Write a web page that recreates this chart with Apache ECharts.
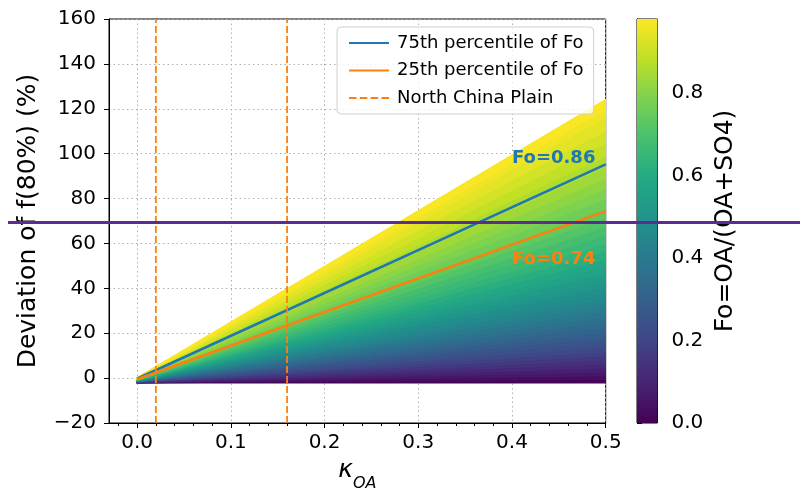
<!DOCTYPE html>
<html><head><meta charset="utf-8">
<script src="https://cdn.jsdelivr.net/npm/echarts@6/dist/echarts.min.js"></script>
<style>html,body{margin:0;padding:0;background:#fff}#c{width:800px;height:493px}</style>
</head><body><div id="c"></div>
<script>
// ---- data ----
const foLevels      = [0.000,0.025,0.050,0.075,0.100,0.125,0.150,0.175,0.200,0.225,0.250,0.275,0.300,0.325,0.350,0.375,0.400,0.425,0.450,0.475,0.500,0.525,0.550,0.575,0.600,0.625,0.650,0.675,0.700,0.725,0.750,0.775,0.800,0.825,0.850,0.875,0.900,0.925,0.950,0.965,0.980];
const devAtKappa0   = [-2.00,-1.95,-1.90,-1.85,-1.80,-1.75,-1.70,-1.65,-1.60,-1.55,-1.50,-1.45,-1.40,-1.35,-1.30,-1.25,-1.20,-1.15,-1.10,-1.05,-1.00,-0.95,-0.90,-0.85,-0.80,-0.75,-0.70,-0.65,-0.60,-0.55,-0.50,-0.45,-0.40,-0.35,-0.30,-0.25,-0.20,-0.15,-0.10,-0.05,0.00];
const devAtKappa05  = [-2.0,-0.4,1.3,2.9,4.7,6.5,8.3,10.2,12.1,14.2,16.2,18.3,20.5,22.8,25.1,27.5,30.0,32.5,35.2,37.9,40.8,43.7,46.7,49.9,53.2,56.6,60.1,63.8,67.6,71.6,75.7,80.0,84.5,89.2,94.2,99.3,104.8,110.4,116.4,120.1,124.0];
const kappaEnds     = [0, 0.5];
const percentileNames    = ['75th percentile of Fo', '25th percentile of Fo'];
const percentileFo       = [0.86, 0.74];
const percentileDevStart = [-0.3, -0.5];
const percentileDevEnd   = [95.2, 74.4];
const percentileLabels   = ['Fo=0.86', 'Fo=0.74'];
const percentileLabelPos = [[0.4, 98], [0.4, 53]];
const ncpName  = 'North China Plain';
const ncpKappa = [0.02, 0.16];
const xMajorTicks = [0, 0.1, 0.2, 0.3, 0.4, 0.5];
const xMinorTicks = [-0.02,0.02,0.04,0.06,0.08,0.12,0.14,0.16,0.18,0.22,0.24,0.26,0.28,0.32,0.34,0.36,0.38,0.42,0.44,0.46,0.48];
const xRange = [-0.03, 0.5];
const yRange = [-20, 160];
const cbTicks = [0, 0.2, 0.4, 0.6, 0.8];
const foMax = 0.979;
const refLineValue = 69.3;

// ---- styling helpers ----
const FONT = 'DejaVu Sans';
const VIR = ['#440154','#482475','#414487','#355f8d','#2a788e','#21918c','#22a884','#44bf70','#7ad151','#bddf26','#fde725'];
function hex2rgb(h){return [parseInt(h.slice(1,3),16),parseInt(h.slice(3,5),16),parseInt(h.slice(5,7),16)];}
function viridis(t){
  t = Math.max(0, Math.min(1, t));
  const p = t*(VIR.length-1), i = Math.min(Math.floor(p), VIR.length-2), f = p-i;
  const a = hex2rgb(VIR[i]), b = hex2rgb(VIR[i+1]);
  return 'rgb(' + a.map((v,k)=>Math.round(v+(b[k]-v)*f)).join(',') + ')';
}
const blue = '#1f77b4', orange = '#ff7f0e';
const minus = v => String(v).replace('-', '\u2212');
const solidIcon  = 'path://M0,0H40V2H0Z';
const dashedIcon = 'path://M0,0H7V2H0Z M10,0H17V2H10Z M20,0H27V2H20Z M30,0H37V2H30Z';

const chart = echarts.init(document.getElementById('c'), null, {renderer:'canvas'});

const fanData = foLevels.slice(0, -1).map((f, i) => [i, 0]);
const series = [];
series.push({
  type: 'custom', xAxisIndex: 0, yAxisIndex: 0, clip: true, z: 2,
  data: fanData,
  renderItem: function(params, api){
    const i = api.value(0);
    const pts = [
      api.coord([kappaEnds[0], devAtKappa0[i]]),
      api.coord([kappaEnds[1], devAtKappa05[i]]),
      api.coord([kappaEnds[1], devAtKappa05[i+1]]),
      api.coord([kappaEnds[0], devAtKappa0[i+1]])
    ];
    const col = viridis(((foLevels[i] + foLevels[i+1]) / 2) / foMax);
    return {type:'polygon', shape:{points: pts}, style:{fill: col, stroke: col, lineWidth: 2, lineJoin:'round'}};
  },
  silent: true
});
percentileNames.forEach((nm, j) => {
  series.push({
    name: nm, type: 'line', xAxisIndex: 0, yAxisIndex: 0, z: 3,
    data: [[kappaEnds[0], percentileDevStart[j]], [kappaEnds[1], percentileDevEnd[j]]],
    showSymbol: false, lineStyle: {color: j === 0 ? blue : orange, width: 2.6},
    itemStyle: {color: j === 0 ? blue : orange}, silent: true
  });
});
ncpKappa.forEach(k => {
  series.push({
    name: ncpName, type: 'line', xAxisIndex: 0, yAxisIndex: 0, z: 4,
    data: [[k, yRange[0]], [k, yRange[1]]],
    showSymbol: false, lineStyle: {color: orange, width: 1.8, type: [7, 3]},
    itemStyle: {color: orange}, silent: true
  });
});
series.push({
  type: 'custom', xAxisIndex: 0, yAxisIndex: 0, z: 5, silent: true,
  data: percentileLabelPos.map((p, j) => [p[0], p[1], j]),
  renderItem: function(params, api){
    const j = api.value(2);
    const c = api.coord([api.value(0), api.value(1)]);
    return {type:'text', x: c[0], y: c[1], style:{text: percentileLabels[j], fill: j === 0 ? blue : orange,
      font: 'bold 18px "' + FONT + '"', align:'left', verticalAlign:'middle'}};
  }
});
// colorbar
series.push({
  type: 'custom', xAxisIndex: 2, yAxisIndex: 1, silent: true,
  data: [[0, 0]],
  renderItem: function(params, api){
    const p0 = api.coord([0, foMax]), p1 = api.coord([1, 0]);
    const stops = [];
    for (let k = 0; k <= 20; k++) stops.push({offset: k/20, color: viridis(1 - k/20)});
    return {type:'rect', shape:{x:p0[0], y:p0[1], width:p1[0]-p0[0], height:p1[1]-p0[1]},
      style:{fill:{type:'linear', x:0, y:0, x2:0, y2:1, colorStops: stops}}};
  }
});

const axisFont = {fontFamily: FONT, color: '#000'};
chart.setOption({
  animation: false,
  backgroundColor: '#fff',
  grid: [
    {left: 109, right: 194.3, top: 19, bottom: 70, show: true, borderColor: '#000', borderWidth: 1, outerBoundsMode: 'none'},
    {left: 637, width: 20.5, top: 19, bottom: 70, show: true, borderColor: '#000', borderWidth: 1, outerBoundsMode: 'none'}
  ],
  legend: {
    left: 337, top: 27, orient: 'vertical',
    data: [
      {name: percentileNames[0], icon: solidIcon, itemStyle: {color: blue}},
      {name: percentileNames[1], icon: solidIcon, itemStyle: {color: orange}},
      {name: ncpName, icon: dashedIcon, itemStyle: {color: orange}}
    ],
    itemWidth: 40, itemHeight: 2.5, itemGap: 7.5,
    padding: [6, 10, 6, 12],
    borderColor: '#d0d0d0', borderWidth: 1, borderRadius: 4,
    backgroundColor: 'rgba(255,255,255,0.8)',
    textStyle: {fontFamily: FONT, fontSize: 18, color: '#000', lineHeight: 20, padding: [0,0,0,3]},
    selectedMode: false
  },
  xAxis: [
    {type: 'value', gridIndex: 0, min: xRange[0], max: xRange[1],
     name: '{k|κ}{s|OA}', nameLocation: 'middle', nameGap: 34,
     nameTextStyle: {rich: {k: {fontFamily: FONT, fontSize: 25, fontStyle: 'italic', color:'#000'},
                            s: {fontFamily: FONT, fontSize: 16, fontStyle: 'italic', color:'#000', verticalAlign:'bottom', padding:[0,0,-9,0]}}},
     axisLine: {show: true, onZero: false, lineStyle: {color: '#000', width: 1}},
     axisTick: {show: true, customValues: xMajorTicks, length: 5, lineStyle: {color: '#000', width: 1}},
     axisLabel: {customValues: xMajorTicks, fontSize: 20, margin: 10, ...axisFont, formatter: v => v.toFixed(1)},
     splitLine: {show: true, lineStyle: {color: '#b0b0b0', type: [1.5, 3], width: 1}}},
    {type: 'value', gridIndex: 0, min: xRange[0], max: xRange[1], position: 'bottom',
     axisLine: {show: false, onZero: false}, axisLabel: {show: false}, splitLine: {show: false},
     axisTick: {show: true, customValues: xMinorTicks, length: 3, lineStyle: {color: '#000', width: 1}}},
    {type: 'value', gridIndex: 1, min: 0, max: 1, show: false}
  ],
  yAxis: [
    {type: 'value', gridIndex: 0, min: yRange[0], max: yRange[1], interval: 20,
     name: 'Deviation of f(80%) (%)', nameLocation: 'middle', nameGap: 68, nameRotate: 90,
     nameTextStyle: {fontFamily: FONT, fontSize: 25, color: '#000'},
     axisLine: {show: true, onZero: false, lineStyle: {color: '#000', width: 1}},
     axisTick: {show: true, length: 5, lineStyle: {color: '#000', width: 1}},
     axisLabel: {fontSize: 20, margin: 13, ...axisFont, formatter: minus},
     splitLine: {show: true, lineStyle: {color: '#b0b0b0', type: [1.5, 3], width: 1}}},
    {type: 'value', gridIndex: 1, min: 0, max: foMax, position: 'right',
     name: 'Fo=OA/(OA+SO4)', nameLocation: 'middle', nameGap: 55, nameRotate: 90,
     nameTextStyle: {fontFamily: FONT, fontSize: 25, color: '#000'},
     axisLine: {show: true, lineStyle: {color: '#000', width: 1}},
     axisTick: {show: true, customValues: cbTicks, length: 5, lineStyle: {color: '#000', width: 1}},
     axisLabel: {customValues: cbTicks, fontSize: 20, margin: 14, ...axisFont, formatter: v => v.toFixed(1)},
     splitLine: {show: false}}
  ],
  series: series
});

// horizontal reference line drawn across the figure
const yRef = chart.convertToPixel({yAxisIndex: 0}, refLineValue);
chart.setOption({graphic: [{type: 'line', z: 100, silent: true,
  shape: {x1: 8, y1: yRef, x2: chart.getWidth(), y2: yRef},
  style: {stroke: '#5b2d8f', lineWidth: 3}}]});
</script></body></html>
